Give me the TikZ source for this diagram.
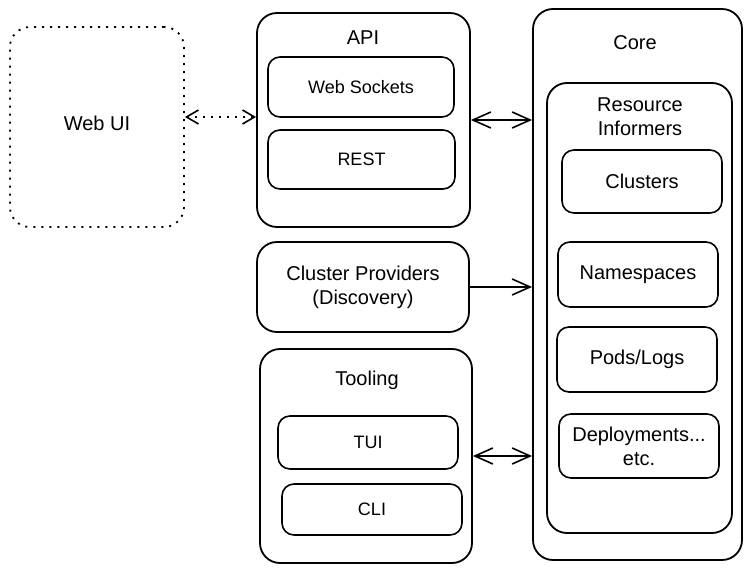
\documentclass[tikz,border=0pt]{standalone}
\usepackage{fontspec}
\setmainfont{Liberation Sans}
\usetikzlibrary{arrows.meta, shapes}

\begin{document}
\begin{tikzpicture}[x=1pt, y=-1pt]
			\tikzstyle{every node} = [font = \fontsize{20}{24}\selectfont]
			\tikzstyle{small} = [font = \fontsize{18}{21}\selectfont]
			\tikzstyle{bigbox} = [draw, line width=1.8pt, rounded corners=20pt, inner sep=0pt]
			\tikzstyle{smallbox} = [draw, line width=1.6pt, rounded corners=12pt, inner sep=0pt]
			\tikzstyle{link} = [line width=1.6pt, >={Straight Barb[length=18pt, width=16pt]}]
				\useasboundingbox (0,0) rectangle (752,572);
				% left side
				\node[bigbox, dash pattern=on 2pt off 6pt, minimum width=174pt, minimum height=200pt] (webui) at (97,127) {};
				\node (webtitle) at (97,123) {Web UI};
				\node[bigbox, minimum width=213pt, minimum height=214pt] (api) at (363.5,120) {};
				\node (apititle) at (363,38) {API};
				\node[smallbox, small, minimum width=186pt, minimum height=60pt] (sockets) at (361,87) {Web Sockets};
				\node[smallbox, small, minimum width=187pt, minimum height=59pt] (rest) at (361.5,159.5) {REST};
				\node[bigbox, align=center, minimum width=212pt, minimum height=90pt] (providers) at (363,287) {Cluster Providers\\(Discovery)};
				\node[bigbox, minimum width=212pt, minimum height=214pt] (tooling) at (366,456) {};
				\node (tooltitle) at (367,380) {Tooling};
				\node[smallbox, small, minimum width=180pt, minimum height=53pt] (tui) at (368,442.5) {TUI};
				\node[smallbox, small, minimum width=180pt, minimum height=51pt] (cli) at (372,509.5) {CLI};
				% core
				\node[bigbox, minimum width=209pt, minimum height=551pt] (core) at (637.5,284.5) {};
				\node (coretitle) at (635,43) {Core};
				\node[bigbox, minimum width=185pt, minimum height=450pt] (informers) at (639.5,308) {};
				\node[align=center] (inftitle) at (640,117) {Resource\\Informers};
				\node[smallbox, minimum width=160pt, minimum height=63pt] (clusters) at (642,181.5) {Clusters};
				\node[smallbox, minimum width=160pt, minimum height=65pt] (namespaces) at (638,274.5) {Namespaces};
				\node[smallbox, minimum width=160pt, minimum height=65pt] (pods) at (637,359.5) {Pods/Logs};
				\node[smallbox, align=center, minimum width=160pt, minimum height=64pt] (deploy) at (639,446) {Deployments...\\etc.};
				% links
				\path[draw, link, <->, dash pattern=on 2pt off 6pt, >={Straight Barb[length=12pt, width=14pt]}] ([yshift=10pt]webui.east)--
					([yshift=10pt]webui.east -| api.west);
				\path[draw, link, <->] (api.east)--
					(api.east -| core.west);
				\path[draw, link, ->] (providers.east)--
					(providers.east -| core.west);
				\path[draw, link, <->] (tooling.east)--
					(tooling.east -| core.west);
		\end{tikzpicture}
\end{document}
